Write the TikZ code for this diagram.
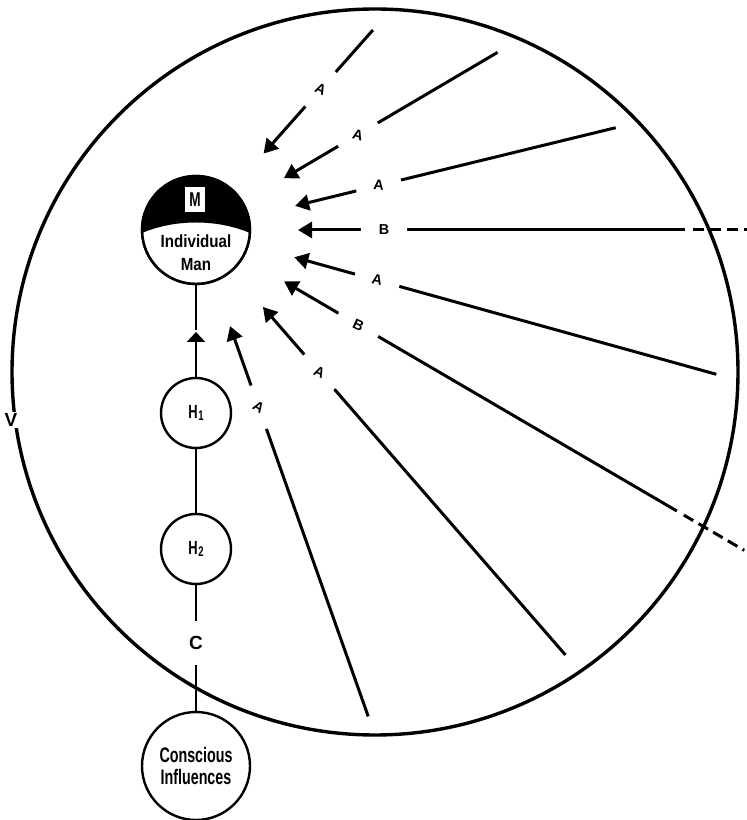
\documentclass[tikz,border=0pt]{standalone}
\usepackage{fontspec}
\setmainfont{Liberation Sans}
\newfontfamily\narrowfont[FakeStretch=0.68]{Liberation Sans}
\newfontfamily\midfont[FakeStretch=0.86]{Liberation Sans}
\usetikzlibrary{calc,arrows.meta}

\begin{document}
\begin{tikzpicture}[x=0.5pt,y=0.5pt,
  ring/.style={circle,draw,line width=1.2pt,inner sep=0pt,minimum size=#1,fill=white},
  ray/.style={line width=1.5pt},
  rayarrow/.style={ray,-{Triangle[length=7pt,width=8pt]}},
  stem/.style={line width=1.3pt},
  tag/.style={font=\bfseries\fontsize{7.2}{8}\selectfont,inner sep=0pt},
  biglabel/.style={font=\bfseries\fontsize{9.5}{10}\selectfont,inner sep=0.5pt}]
\useasboundingbox (0,0) rectangle (746,820);

% the surrounding sphere
\draw[line width=1.7pt] (375,448) circle (363);
\node[biglabel,fill=white] (v) at (11,400) {V};

% individual man, half black
\node[ring=54pt] (man) at (196,590) {};
\begin{scope}
  \clip (196,590) circle (54);
  \fill (142,587) .. controls (175,601) and (217,601) .. (250,587)
        -- (250,650) -- (142,650) -- cycle;
\end{scope}
\draw[line width=1.2pt] (man.center) circle (54);
\node[fill=white,minimum width=10pt,minimum height=12.5pt,inner sep=0pt,
      font=\narrowfont\bfseries\fontsize{10}{10}\selectfont] (mbox) at (195,620) {M};
\node[align=center,inner sep=0pt,font=\midfont\bfseries\fontsize{8.8}{11.5}\selectfont]
      (mantext) at (196,567) {Individual\\Man};

% the chain below
\node[ring=35pt,font=\narrowfont\bfseries\fontsize{9.5}{10}\selectfont] (h1) at (196,407)
  {H\kern0.3pt\raisebox{-0.15ex}{\fontsize{7}{7}\selectfont 1}};
\node[ring=35pt,font=\narrowfont\bfseries\fontsize{9.5}{10}\selectfont] (h2) at (196,271)
  {H\kern0.3pt\raisebox{-0.15ex}{\fontsize{7}{7}\selectfont 2}};
\node[biglabel,minimum height=22pt,inner sep=0pt] (c) at (196,177) {C};
\node[ring=54pt,align=center,font=\narrowfont\bfseries\fontsize{10.5}{11}\selectfont]
      (ci) at (196,54) {Conscious\\Influences};

\coordinate (stemtop) at (196,490);
\coordinate (stemtip) at (196,488);
\draw[stem] (man) -- (stemtop);
\draw[stem,-{Triangle[length=5pt,width=9pt]}] (h1) -- (stemtip);
\draw[stem] (h1) -- (h2);
\draw[stem] (h2) -- (c);
\draw[stem] (c) -- (ci);

% influences converging on the man
\foreach \ang/\rout/\lab/\rot [count=\i] in
  {48.5/267/A/-25, 30.5/350/A/-15, 13.7/432/A/-5, 0/489/B/0,
   -15.5/540/A/-12, -30.3/557/B/-25, -49/563/A/-25, -70.5/516/A/-32}{
  \coordinate (tip\i) at ($(man.center)+(\ang:102)$);
  \coordinate (tail\i) at ($(man.center)+(\ang:165)$);
  \node[tag,rotate=\rot] (lab\i) at ($(man.center)+(\ang:188)$) {\lab};
  \coordinate (start\i) at ($(man.center)+(\ang:211)$);
  \coordinate (end\i) at ($(man.center)+(\ang:\rout)$);
  \draw[rayarrow] (tail\i) -- (tip\i);
  \draw[ray] (start\i) -- (end\i);
}

% the B influences continue beyond the sphere
\coordinate (outB1) at ($(man.center)+(0:497)$);
\coordinate (outB1end) at ($(man.center)+(0:552)$);
\coordinate (outB2) at ($(man.center)+(-30.3:565)$);
\coordinate (outB2end) at ($(man.center)+(-30.3:635)$);
\draw[ray,dash pattern=on 5.5pt off 3pt] (outB1) -- (outB1end);
\draw[ray,dash pattern=on 5.5pt off 3pt] (outB2) -- (outB2end);
\end{tikzpicture}
\end{document}
